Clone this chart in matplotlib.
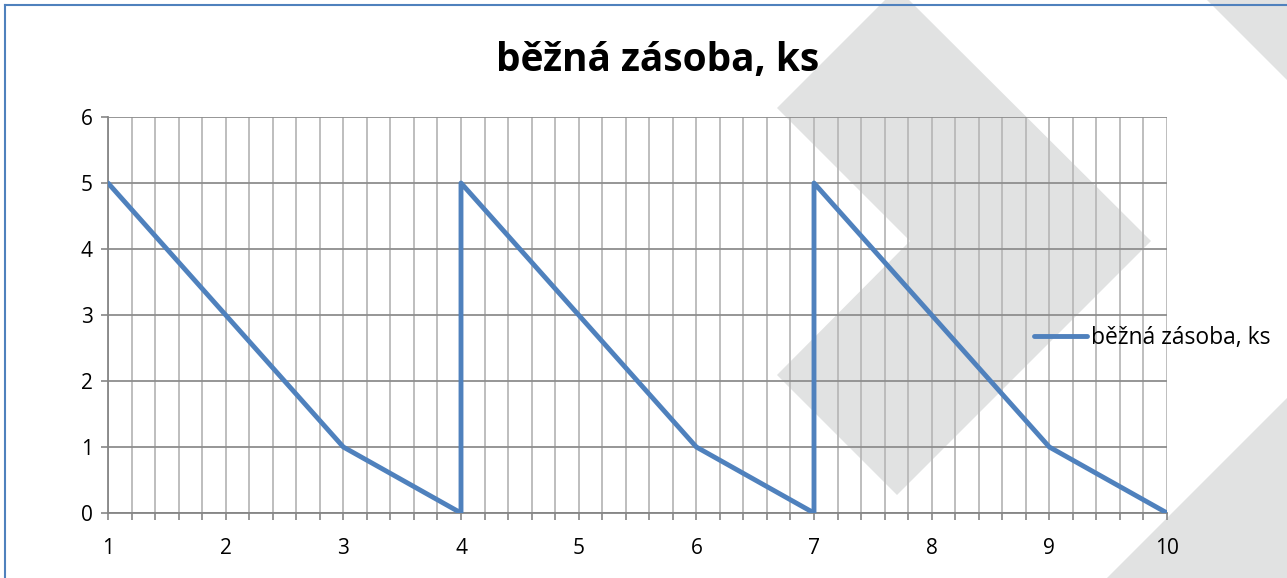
import numpy as np
import matplotlib
matplotlib.use("Agg")
import matplotlib.pyplot as plt
from matplotlib.patches import Polygon
from matplotlib.lines import Line2D
from matplotlib.ticker import MultipleLocator

# data
x_vals = [1, 2, 3, 4, 4, 5, 6, 7, 7, 8, 9, 10]
y_vals = [5, 3, 1, 0, 5, 3, 1, 0, 5, 3, 1, 0]
serie = "běžná zásoba, ks"
x_ticks = list(range(1, 11))
y_ticks = list(range(0, 7))

W, H = 1287, 578
plt.rcParams['font.family'] = ['Open Sans', 'DejaVu Sans']

fig = plt.figure(figsize=(W / 100, H / 100), dpi=100)

def px(pts):
    # pixel coords -> figure fraction
    return [(x / W, 1 - y / H) for x, y in pts]

# light grey watermark shapes behind the chart
seda = "#e1e2e2"
for shape in [
    [(777, 108), (897, -12), (1151, 241), (897, 495), (777, 375), (910, 241)],
    [(1105, 580), (1289, 396), (1289, 580)],
    [(1205, -2), (1289, -2), (1289, 82)],
]:
    fig.add_artist(Polygon(px(shape), closed=True, transform=fig.transFigure,
                           facecolor=seda, edgecolor="none", zorder=-5))

# blue frame (top and left edge)
modra_ramka = "#4f81bd"
fig.add_artist(Line2D([5 / W, 1], [1 - 5 / H, 1 - 5 / H], transform=fig.transFigure,
                      color=modra_ramka, lw=1.5))
fig.add_artist(Line2D([5 / W, 5 / W], [0, 1 - 5 / H], transform=fig.transFigure,
                      color=modra_ramka, lw=1.5))

ax = fig.add_axes([108 / W, 1 - 513 / H, (1167 - 108) / W, (513 - 117) / H])
ax.set_facecolor("none")

ax.plot(x_vals, y_vals, color="#4f81bd", lw=3.5, label=serie,
        solid_capstyle="round", solid_joinstyle="round", zorder=3)

ax.set_xlim(1, 10)
ax.set_ylim(0, 6)
ax.set_xticks(x_ticks)
ax.set_yticks(y_ticks)
ax.xaxis.set_minor_locator(MultipleLocator(0.2))

ax.grid(True, axis="x", which="both", color="#b9b9b9", lw=1.3, zorder=1)
ax.grid(True, axis="y", which="major", color="#8e8e8e", lw=1.3, zorder=1)
ax.set_axisbelow(True)

for s in ["top", "right"]:
    ax.spines[s].set_visible(False)
for s in ["left", "bottom"]:
    ax.spines[s].set_color("#868686")
    ax.spines[s].set_linewidth(1.3)

ax.tick_params(axis="x", which="both", direction="out", length=5, width=1.2,
               color="#868686", labelsize=15, pad=13)
ax.tick_params(axis="y", which="major", direction="out", length=5, width=1.2,
               color="#868686", labelsize=15, pad=6)

fig.text(658 / W, 1 - 60 / H, serie, ha="center", va="center",
         fontsize=28, fontweight="bold")

fig.legend(loc="center left", bbox_to_anchor=(1034 / W, 1 - 338 / H),
           frameon=False, fontsize=16.5, handlelength=2.3, handletextpad=0.2,
           borderpad=0, borderaxespad=0)

fig.savefig("out.png", dpi=100)
